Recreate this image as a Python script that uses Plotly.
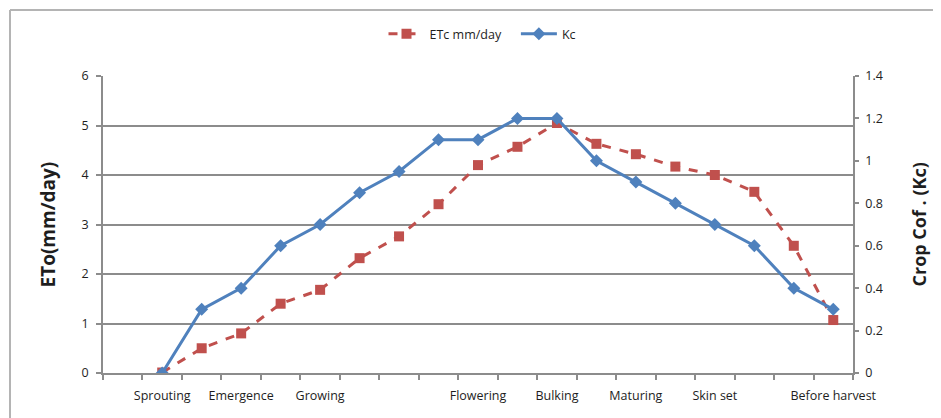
import plotly.graph_objects as go

# ---------------- data ----------------
categories = ["", "Sprouting", "", "Emergence", "", "Growing", "", "", "", "Flowering",
              "", "Bulking", "", "Maturing", "", "Skin set", "", "", "Before harvest"]
x_positions = list(range(1, 19))
etc_mm_day = [0.01, 0.50, 0.80, 1.40, 1.68, 2.32, 2.76, 3.41, 4.20, 4.57,
              5.05, 4.63, 4.42, 4.17, 4.00, 3.66, 2.57, 1.07]
kc_values = [0.0, 0.3, 0.4, 0.6, 0.7, 0.85, 0.95, 1.1, 1.1, 1.2,
             1.2, 1.0, 0.9, 0.8, 0.7, 0.6, 0.4, 0.3]
series_names = ["ETc mm/day", "Kc"]

RED = "#C0504D"
BLUE = "#4F81BD"
GRID = "#8c8c8c"
FONT = "Open Sans"
TXT = "#1e1e1e"

OFF = 8  # page body margin
W, H = 941 - OFF, 418 - OFF
ML, MR, MT, MB = 103 - OFF, 88, 76 - OFF, 45
PW = W - ML - MR
PH = H - MT - MB

fig = go.Figure()
fig.add_trace(go.Scatter(
    x=x_positions, y=etc_mm_day, name=series_names[0] + "\u00a0\u00a0\u00a0",
    mode="lines+markers",
    line=dict(color=RED, width=3, dash="dash"),
    marker=dict(symbol="square", size=10, color=RED),
    yaxis="y"))
fig.add_trace(go.Scatter(
    x=x_positions, y=kc_values, name=series_names[1], mode="lines+markers",
    line=dict(color=BLUE, width=3),
    marker=dict(symbol="diamond", size=10, color=BLUE),
    yaxis="y2"))

n = len(categories)
fig.update_layout(
    width=W, height=H,
    margin=dict(l=ML, r=MR, t=MT, b=MB, pad=0),
    paper_bgcolor="white", plot_bgcolor="white",
    font=dict(family=FONT, size=12, color=TXT),
    showlegend=True,
    legend=dict(orientation="h", x=0.506, xanchor="center", xref="paper",
                y=1 - (34 - OFF) / H, yref="container", yanchor="middle",
                font=dict(family=FONT, size=12.5, color=TXT),
                itemwidth=36, tracegroupgap=0),
    xaxis=dict(
        range=[-0.5, n - 0.5], tickmode="array",
        tickvals=list(range(n)), ticktext=categories,
        ticks="", showgrid=False, zeroline=False,
        showline=True, linecolor=GRID, linewidth=1.5,
        ticklabelstandoff=10,
        tickfont=dict(family=FONT, size=12.5, color=TXT),
        minor=dict(tickmode="array", tickvals=[i - 0.5 for i in range(n + 1)],
                   ticks="outside", ticklen=5, tickcolor=GRID, tickwidth=1.5,
                   showgrid=False),
    ),
    yaxis=dict(
        range=[0, 6], dtick=1, tick0=0,
        showgrid=True, gridcolor=GRID, gridwidth=1.5,
        zeroline=False, showline=True, linecolor=GRID, linewidth=1.5,
        ticks="outside", ticklen=5, tickcolor=GRID, tickwidth=1.5,
        ticklabelstandoff=5,
        tickfont=dict(family=FONT, size=12.5, color=TXT),
    ),
    yaxis2=dict(
        range=[0, 1.4], dtick=0.2, tick0=0, overlaying="y", side="right",
        showgrid=False, zeroline=False, showline=True, linecolor=GRID, linewidth=1.5,
        ticks="outside", ticklen=4, tickcolor=GRID, tickwidth=1.5,
        ticklabelstandoff=4,
        tickfont=dict(family=FONT, size=12.5, color=TXT),
    ),
)

# axis titles
fig.add_annotation(text="<b>ETo(mm/day)</b>", textangle=-90, xref="paper", yref="paper",
                   x=(47 - OFF - ML) / PW, y=0.5, xanchor="center", yanchor="middle",
                   showarrow=False, font=dict(family=FONT, size=19, color=TXT))
fig.add_annotation(text="<b>Crop Cof . (Kc)</b>", textangle=-90, xref="paper", yref="paper",
                   x=(918 - OFF - ML) / PW, y=0.5, xanchor="center", yanchor="middle",
                   showarrow=False, font=dict(family=FONT, size=18, color=TXT))

# chart frame (decoration, page pixel -> paper)
def px(xp):
    return (xp - OFF - ML) / PW

def py(yp):
    return (H - MB - (yp - OFF)) / PH

FRAME = "#b4b4b4"
fig.add_shape(type="line", xref="paper", yref="paper", x0=px(10), x1=px(10),
              y0=py(10), y1=py(430), line=dict(color=FRAME, width=2))
fig.add_shape(type="line", xref="paper", yref="paper", x0=px(10), x1=px(950),
              y0=py(10), y1=py(10), line=dict(color=FRAME, width=2))

fig.write_html("out.html")
